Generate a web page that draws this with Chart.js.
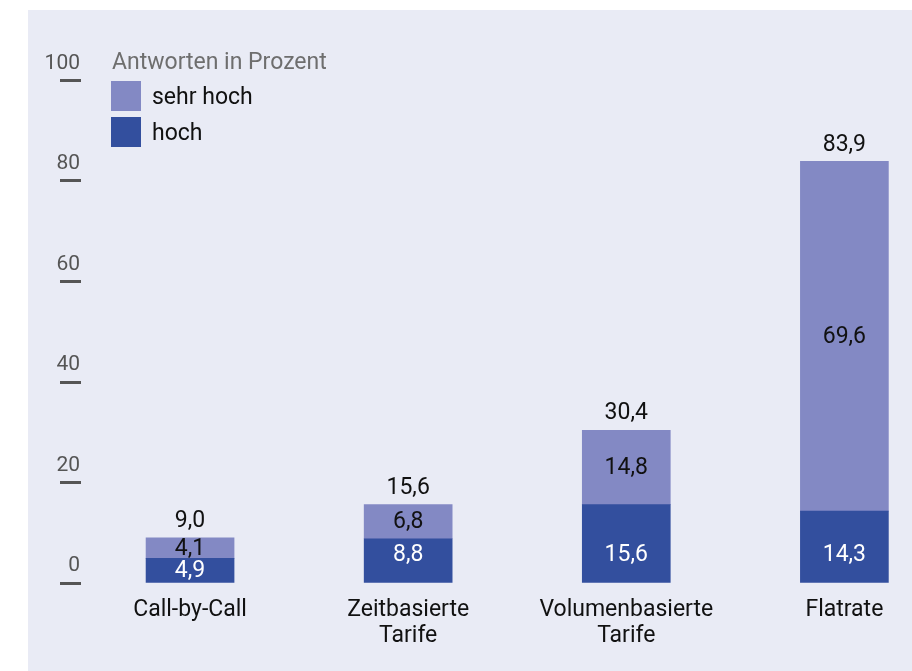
<!DOCTYPE html>
<html>
<head>
<meta charset="utf-8">
<script src="https://cdn.jsdelivr.net/npm/chart.js@4.4.1/dist/chart.umd.min.js"></script>
<style>
html, body { margin: 0; padding: 0; background: #fff; overflow: hidden; }
#panel { position: absolute; left: 28px; top: 10px; width: 884px; height: 661px; background: #e9ebf5; }
#wrap { position: absolute; left: 0; top: 0; width: 912px; height: 671px; }
</style>
</head>
<body>
<div id="panel"></div>
<div id="wrap"><canvas id="chart"></canvas></div>
<script>
const categories = [['Call-by-Call'], ['Zeitbasierte', 'Tarife'], ['Volumenbasierte', 'Tarife'], ['Flatrate']];
const hoch = [4.9, 8.8, 15.6, 14.3];
const sehrHoch = [4.1, 6.8, 14.8, 69.6];
const totals = [9.0, 15.6, 30.4, 83.9];
const yTicks = [0, 20, 40, 60, 80, 100];
const legendTitle = 'Antworten in Prozent';

const FONT = 'Roboto, "Liberation Sans", sans-serif';
Chart.defaults.font.family = FONT;
Chart.defaults.font.size = 23;

function fmt(v) {
    return v.toFixed(1).replace('.', ',');
}

const labelPlugin = {
    id: 'labels',
    afterDatasetsDraw(chart) {
        const ctx = chart.ctx;
        ctx.save();
        ctx.font = '23px ' + FONT;
        ctx.textAlign = 'center';
        ctx.textBaseline = 'middle';
        const dark = chart.getDatasetMeta(0).data;
        const light = chart.getDatasetMeta(1).data;
        dark.forEach((el, i) => {
            const h = el.base - el.y;
            const y = h >= 40 ? el.base - 27 : (el.y + el.base) / 2 + 1;
            ctx.fillStyle = '#ffffff';
            ctx.fillText(fmt(hoch[i]), el.x, y);
        });
        light.forEach((el, i) => {
            ctx.fillStyle = '#111111';
            ctx.fillText(fmt(sehrHoch[i]), el.x, (el.y + el.base) / 2 + 1);
            ctx.fillText(fmt(totals[i]), el.x, el.y - 16.5);
        });
        ctx.restore();
    }
};

const legendPlugin = {
    id: 'customLegend',
    afterDraw(chart) {
        const ctx = chart.ctx;
        const area = chart.chartArea;
        const x = area.left + 30;
        ctx.save();
        ctx.font = '23px ' + FONT;
        ctx.textBaseline = 'middle';
        ctx.textAlign = 'left';
        ctx.fillStyle = '#6e6e6e';
        ctx.fillText(legendTitle, x + 1, area.top - 17);
        const items = chart.data.datasets.slice().reverse();
        items.forEach((ds, i) => {
            const top = area.top + 0.5 + i * 36;
            ctx.fillStyle = ds.backgroundColor;
            ctx.fillRect(x, top, 30, 30);
            ctx.fillStyle = '#111111';
            ctx.fillText(ds.label, x + 41, top + 17);
        });
        ctx.restore();
    }
};

new Chart(document.getElementById('chart'), {
    type: 'bar',
    data: {
        datasets: [
            {
                label: 'hoch',
                data: hoch.map((v, i) => ({ x: i, y: v })),
                backgroundColor: '#334f9e'
            },
            {
                label: 'sehr hoch',
                data: sehrHoch.map((v, i) => ({ x: i, y: v })),
                backgroundColor: '#8389c4'
            }
        ]
    },
    options: {
        responsive: true,
        maintainAspectRatio: false,
        animation: false,
        barThickness: 88,
        layout: { padding: { top: 80.5, right: 0, bottom: 0, left: 0 } },
        plugins: {
            legend: { display: false },
            tooltip: { enabled: false }
        },
        scales: {
            x: {
                type: 'linear',
                stacked: true,
                offset: false,
                min: -0.5,
                max: 3.31,
                afterBuildTicks: (scale) => {
                    scale.ticks = categories.map((c, i) => ({ value: i }));
                },
                afterFit: (scale) => { scale.height = 88; },
                grid: { display: false, offset: false },
                border: { display: false },
                ticks: {
                    autoSkip: false,
                    maxRotation: 0,
                    padding: 6,
                    color: '#111111',
                    font: { size: 23, lineHeight: 1.13 },
                    callback: (v) => categories[v]
                }
            },
            y: {
                stacked: true,
                min: 0,
                max: 100,
                afterBuildTicks: (scale) => {
                    scale.ticks = yTicks.map(v => ({ value: v }));
                },
                afterFit: (scale) => { scale.width = 81; },
                grid: {
                    drawOnChartArea: false,
                    drawTicks: true,
                    tickLength: 21,
                    tickWidth: 3,
                    tickColor: '#555555'
                },
                border: { display: false },
                ticks: {
                    padding: -20,
                    labelOffset: -17,
                    color: '#555555',
                    font: { size: 21 }
                }
            }
        }
    },
    plugins: [labelPlugin, legendPlugin]
});
</script>
</body>
</html>
